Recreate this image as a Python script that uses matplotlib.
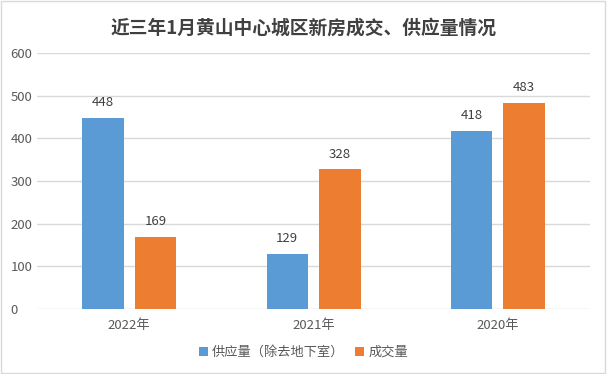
import matplotlib.pyplot as plt
import numpy as np

plt.rcParams['font.family'] = ['Noto Sans CJK SC', 'DejaVu Sans']

years = ["2022年", "2021年", "2020年"]
supply = [448, 129, 418]
deals = [169, 328, 483]
yticks = [0, 100, 200, 300, 400, 500, 600]

blue = "#5B9BD5"
orange = "#ED7D31"
txt = "#595959"

fig = plt.figure(figsize=(6.07, 3.74), dpi=100)
ax = fig.add_axes([0.061, 0.174, 0.911, 0.684])

x = np.arange(len(years))
w = 0.225
gap = 0.03
b1 = ax.bar(x - w/2 - gap, supply, w, color=blue, label="供应量（除去地下室）", zorder=3)
b2 = ax.bar(x + w/2 + gap, deals, w, color=orange, label="成交量", zorder=3)

for bars in (b1, b2):
	for r in bars:
		ax.text(r.get_x() + r.get_width()/2, r.get_height() + 20, str(int(r.get_height())),
			ha="center", va="bottom", fontsize=9.5, color="#404040")

ax.set_ylim(0, 600)
ax.set_xlim(-0.5, 2.5)
ax.set_yticks(yticks)
ax.set_xticks(x)
ax.set_xticklabels(years)
ax.grid(axis="y", color="#D9D9D9", lw=1, zorder=0)
for s in ax.spines.values():
	s.set_visible(False)
ax.tick_params(length=0, labelsize=9.5, colors=txt)
ax.tick_params(axis="x", pad=7)
ax.set_yticklabels([str(t) for t in yticks], ha="left")
ax.yaxis.set_tick_params(pad=19)

fig.text(0.5, 0.925, "近三年1月黄山中心城区新房成交、供应量情况", ha="center", va="center",
	fontsize=13.5, fontweight="bold", color="#404040")

fig.legend(loc="center", bbox_to_anchor=(0.5, 0.058), ncol=2, frameon=False,
	fontsize=9.5, labelcolor=txt, handlelength=0.7, handleheight=0.7, handletextpad=0.3, columnspacing=0.8)

fig.patches.append(plt.Rectangle((0.002, 0.003), 0.995, 0.994, transform=fig.transFigure,
	fill=False, edgecolor="#D9D9D9", lw=1))

fig.savefig("out.png", dpi=100)
